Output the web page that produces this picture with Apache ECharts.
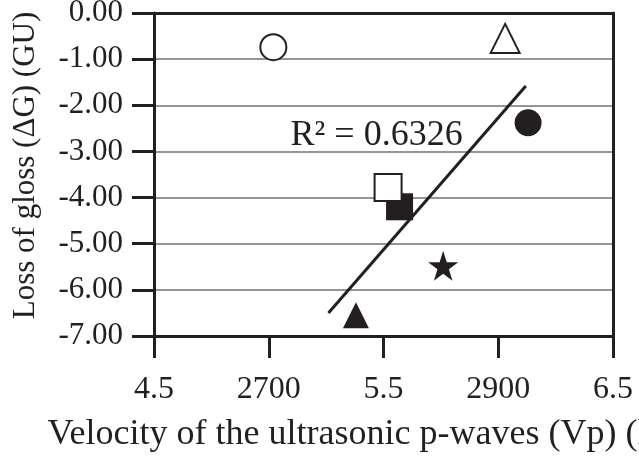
<!DOCTYPE html>
<html>
<head>
<meta charset="utf-8">
<script src="https://cdn.jsdelivr.net/npm/echarts@6/dist/echarts.min.js"></script>
<style>
  html, body { margin: 0; padding: 0; background: #fff; }
  #main { width: 639px; height: 460px; }
</style>
</head>
<body>
<div id="main"></div>
<script>
// values (Vp in km/s, gloss loss in GU)
const xTickLabels = ['4.5', '2700', '5.5', '2900', '6.5'];
const openCircle = [[5.02, -0.74]];
const openTriangle = [[6.03, -0.55]];
const filledCircle = [[6.13, -2.38]];
const filledSquare = [[5.57, -4.20]];
const openSquare = [[5.52, -3.78]];
const star = [[5.76, -5.48]];
const filledTriangle = [[5.38, -6.55]];
const trendLine = [[5.26, -6.50], [6.12, -1.58]];
const rSquaredLabel = 'R² = 0.6326';
const rSquaredAt = [[5.47, -2.65]];

const ink = '#231f20';
const font = 'Liberation Serif';
const starPath = 'path://M50,0 L61.8,36.2 L100,36.2 L69.1,58.6 L80.9,95.1 L50,72.7 L19.1,95.1 L30.9,58.6 L0,36.2 L38.2,36.2 Z';

function pointSeries(data, symbol, size, filled) {
    return {
        type: 'scatter',
        data: data,
        symbol: symbol,
        symbolSize: size,
        z: 5,
        itemStyle: {
            opacity: 1,
            color: filled ? ink : '#fff',
            borderColor: ink,
            borderWidth: filled ? 0 : 2
        }
    };
}

// plain black line used to close the frame on top and right
function frameAxis(pos, min, max) {
    return {
        type: 'value',
        position: pos,
        min: min, max: max,
        axisLine: { show: true, onZero: false, lineStyle: { color: ink, width: 3 } },
        axisTick: { show: false },
        axisLabel: { show: false },
        splitLine: { show: false }
    };
}

function init() {
    const chart = echarts.init(document.getElementById('main'));
    const option = {
        animation: false,
        grid: {
            left: 154, right: 26, top: 13, bottom: 124,
            containLabel: false,
            outerBoundsMode: 'none'
        },
        xAxis: [{
            type: 'value',
            position: 'bottom',
            min: 4.5, max: 6.5, interval: 0.5,
            name: 'Velocity of the ultrasonic p-waves (Vp) (km/s)',
            nameLocation: 'middle',
            nameGap: 81,
            nameTextStyle: { fontFamily: font, fontSize: 36, color: ink },
            axisLine: { show: true, onZero: false, lineStyle: { color: ink, width: 3 } },
            axisTick: { show: true, length: 22, lineStyle: { color: ink, width: 3 } },
            axisLabel: {
                margin: 38,
                fontFamily: font, fontSize: 32, color: ink,
                formatter: function (v) {
                    return xTickLabels[Math.round((v - 4.5) / 0.5)];
                }
            },
            splitLine: { show: false }
        }, frameAxis('top', 4.5, 6.5)],
        yAxis: [{
            type: 'value',
            position: 'left',
            min: -7, max: 0, interval: 1,
            name: 'Loss of gloss (ΔG) (GU)',
            nameLocation: 'middle',
            nameRotate: 90,
            nameGap: 113,
            nameTextStyle: { fontFamily: font, fontSize: 31, color: ink, padding: [0, 0, 0, 18] },
            axisLine: { show: true, onZero: false, lineStyle: { color: ink, width: 3 } },
            axisTick: { show: true, length: 22, lineStyle: { color: ink, width: 3 } },
            axisLabel: {
                margin: 31,
                fontFamily: font, fontSize: 31, color: ink,
                formatter: function (v) { return v.toFixed(2); }
            },
            splitLine: {
                show: true, showMinLine: false, showMaxLine: false,
                lineStyle: { color: '#8e979b', width: 2 }
            }
        }, frameAxis('right', -7, 0)],
        series: [
            {
                type: 'line',
                data: trendLine,
                symbol: 'none',
                z: 4,
                lineStyle: { color: ink, width: 3 }
            },
            pointSeries(openCircle, 'circle', 26, false),
            pointSeries(openTriangle, 'triangle', 29, false),
            pointSeries(filledCircle, 'circle', 27, true),
            pointSeries(filledSquare, 'rect', 27, true),
            pointSeries(openSquare, 'rect', 27, false),
            pointSeries(star, starPath, 30, true),
            pointSeries(filledTriangle, 'triangle', 26, true),
            {
                type: 'scatter',
                data: rSquaredAt,
                symbolSize: 0,
                z: 6,
                itemStyle: { opacity: 1 },
                label: {
                    show: true,
                    position: 'inside',
                    formatter: rSquaredLabel,
                    fontFamily: font,
                    fontSize: 36,
                    color: ink
                }
            }
        ]
    };
    chart.setOption(option);
}

window.onload = init;
</script>
</body>
</html>
